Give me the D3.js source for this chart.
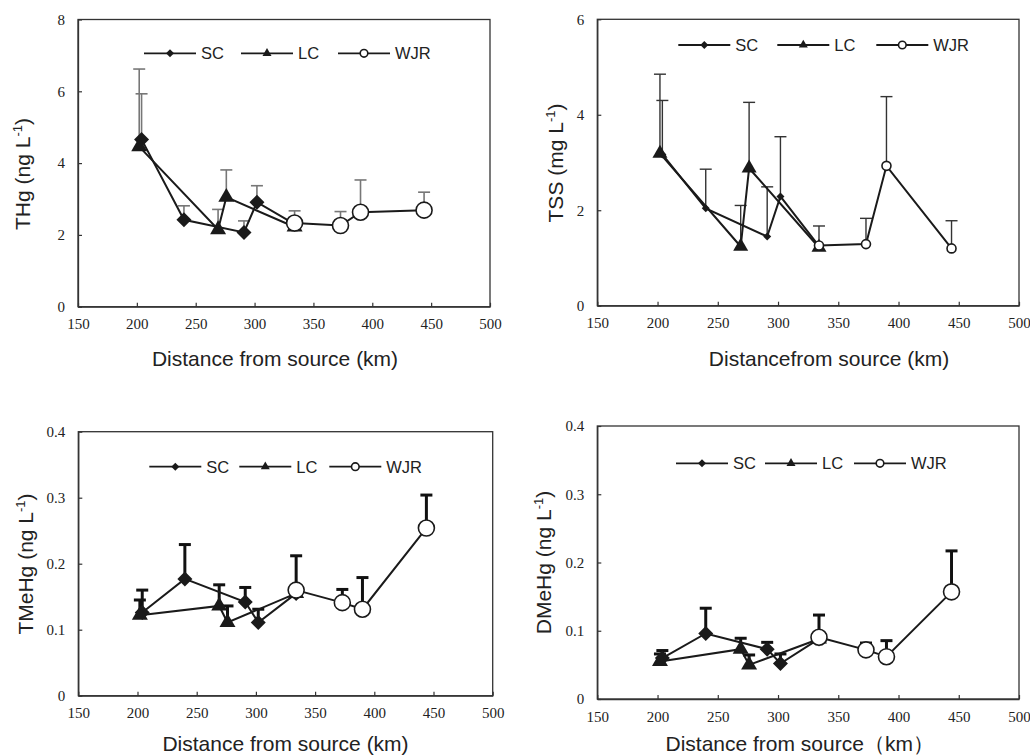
<!DOCTYPE html>
<html><head><meta charset="utf-8">
<script src="https://cdn.jsdelivr.net/npm/d3@7"></script>
<style>body{margin:0;background:#fff} .tick text{font-family:'Liberation Serif','Times New Roman',serif !important;font-size:15px !important;}</style>
</head><body><svg id="c" width="1030" height="755" xmlns="http://www.w3.org/2000/svg"></svg>
<script>
// ---- data ----
const seriesNames = ["SC", "LC", "WJR"];
const xTicks = [150, 200, 250, 300, 350, 400, 450, 500];
const scDist = [204, 240, 291, 302, 334];
const lcDist = [202, 269, 276, 334];
const wjrDist = [334, 373, 390, 444];

const thgSC = [4.66, 2.42, 2.07, 2.91, 2.30];
const thgSCsd = [1.27, 0.39, 0.32, 0.46, 0];
const thgLC = [4.46, 2.15, 3.05, 2.22];
const thgLCsd = [2.16, 0.56, 0.76, 0];
const thgWJR = [2.33, 2.26, 2.63, 2.69];
const thgWJRsd = [0.34, 0.39, 0.90, 0.50];
const thgTicks = [0, 2, 4, 6, 8];

const tssSC = [3.17, 2.04, 1.45, 2.29, 1.25];
const tssSCsd = [1.13, 0.82, 1.04, 1.25, 0];
const tssLC = [3.19, 1.24, 2.88, 1.22];
const tssLCsd = [1.66, 0.86, 1.38, 0];
const tssWJR = [1.26, 1.29, 2.93, 1.20];
const tssWJRsd = [0.41, 0.54, 1.45, 0.58];
const tssTicks = [0, 2, 4, 6];

const tmSC = [0.126, 0.177, 0.142, 0.111, 0.155];
const tmSCsd = [0.034, 0.052, 0.022, 0.020, 0];
const tmLC = [0.122, 0.136, 0.111, 0.155];
const tmLCsd = [0.023, 0.032, 0.025, 0];
const tmWJR = [0.160, 0.141, 0.131, 0.254];
const tmWJRsd = [0.052, 0.020, 0.048, 0.050];
const meTicks = [0, 0.1, 0.2, 0.3, 0.4];

const dmSC = [0.060, 0.096, 0.073, 0.052, 0.088];
const dmSCsd = [0.011, 0.037, 0.010, 0.014, 0];
const dmLC = [0.055, 0.073, 0.050, 0.088];
const dmLCsd = [0.011, 0.016, 0.0145, 0];
const dmWJR = [0.0905, 0.072, 0.062, 0.157];
const dmWJRsd = [0.0325, 0.010, 0.0235, 0.060];

// ---- layout ----
const SANS = "'Liberation Sans', Arial, sans-serif";
const SERIF = "'Liberation Serif', 'Times New Roman', serif";
const svg = d3.select("#c");

const panels = [
  {sc: thgSC, scSd: thgSCsd, lc: thgLC, lcSd: thgLCsd, wjr: thgWJR, wjrSd: thgWJRsd, yTicks: thgTicks,
   yName: "THg (ng L", xName: "Distance from source (km)",
   box: {l: 78, r: 490, t: 19.5, b: 306.7}, ylab: [22, 174], xlab: [275, 358],
   leg: {x: 144, y: 53.3, gap: 97}, mk: {d: 15, t: 16, c: 8}, err: {color: "#777", w: 1.6}},
  {sc: tssSC, scSd: tssSCsd, lc: tssLC, lcSd: tssLCsd, wjr: tssWJR, wjrSd: tssWJRsd, yTicks: tssTicks,
   yName: "TSS (mg L", xName: "Distancefrom source (km)",
   box: {l: 597.3, r: 1019, t: 19.3, b: 305.7}, ylab: [555, 163], xlab: [829, 358],
   leg: {x: 678.3, y: 45, gap: 99}, mk: {d: 8, t: 15, c: 4.5}, err: {color: "#333", w: 1.4}},
  {sc: tmSC, scSd: tmSCsd, lc: tmLC, lcSd: tmLCsd, wjr: tmWJR, wjrSd: tmWJRsd, yTicks: meTicks,
   yName: "TMeHg (ng L", xName: "Distance from source (km)",
   box: {l: 78.3, r: 492.7, t: 431.7, b: 695.7}, ylab: [25, 564], xlab: [285.5, 743.3],
   leg: {x: 149.3, y: 466.7, gap: 90}, mk: {d: 15, t: 16, c: 8}, err: {color: "#111", w: 3}},
  {sc: dmSC, scSd: dmSCsd, lc: dmLC, lcSd: dmLCsd, wjr: dmWJR, wjrSd: dmWJRsd, yTicks: meTicks,
   yName: "DMeHg (ng L", xName: "Distance from source\uFF08km\uFF09",
   box: {l: 597.3, r: 1019, t: 426, b: 699}, ylab: [543.3, 562.5], xlab: [799.7, 743],
   leg: {x: 676, y: 463.3, gap: 89}, mk: {d: 15, t: 16, c: 8}, err: {color: "#111", w: 3}}
];

function drawMarker(g, type, x, y, mk) {
  if (type === "SC") {
    const s = mk.d / Math.SQRT2;
    g.append("path").attr("d", d3.symbol(d3.symbolSquare, s * s)())
      .attr("transform", `translate(${x},${y}) rotate(45)`).attr("fill", "#1a1a1a");
  } else if (type === "LC") {
    const w = mk.t;
    g.append("path").attr("d", d3.symbol(d3.symbolTriangle, Math.sqrt(3) / 4 * w * w)())
      .attr("transform", `translate(${x},${y})`).attr("fill", "#1a1a1a");
  } else {
    g.append("circle").attr("cx", x).attr("cy", y).attr("r", mk.c)
      .attr("fill", "#fff").attr("stroke", "#1a1a1a").attr("stroke-width", 1.6);
  }
}

panels.forEach(p => {
  const b = p.box;
  const x = d3.scaleLinear().domain([150, 500]).range([b.l, b.r]);
  const y = d3.scaleLinear().domain([0, d3.max(p.yTicks)]).range([b.b, b.t]);
  const g = svg.append("g");

  // frame
  g.append("rect").attr("x", b.l).attr("y", b.t).attr("width", b.r - b.l).attr("height", b.b - b.t)
    .attr("fill", "none").attr("stroke", "#333").attr("stroke-width", 1.3);

  const fmt = d => d === 0 ? "0" : (d3.max(p.yTicks) < 1 ? d3.format(".1f")(d) : String(d));
  const xa = g.append("g").attr("transform", `translate(0,${b.b})`)
    .call(d3.axisBottom(x).tickValues(xTicks).tickSizeInner(-4).tickSizeOuter(0).tickPadding(12));
  const ya = g.append("g").attr("transform", `translate(${b.l},0)`)
    .call(d3.axisLeft(y).tickValues(p.yTicks).tickFormat(fmt).tickSizeInner(-4).tickSizeOuter(0).tickPadding(13));
  [xa, ya].forEach(a => {
    a.attr("font-family", SERIF).attr("font-size", 15);
    a.select(".domain").attr("stroke", "#333").attr("stroke-width", 1.3);
    a.selectAll(".tick line").attr("stroke", "#333").attr("stroke-width", 1.2);
    a.selectAll(".tick text").attr("fill", "#222");
  });

  const series = [
    {name: "SC", xs: scDist, ys: p.sc, sd: p.scSd},
    {name: "LC", xs: lcDist, ys: p.lc, sd: p.lcSd},
    {name: "WJR", xs: wjrDist, ys: p.wjr, sd: p.wjrSd}
  ];

  // error bars
  series.forEach(s => {
    s.xs.forEach((xv, i) => {
      if (!s.sd[i]) return;
      const cx = x(xv), y0 = y(s.ys[i]), y1 = y(s.ys[i] + s.sd[i]);
      g.append("line").attr("x1", cx).attr("x2", cx).attr("y1", y0).attr("y2", y1)
        .attr("stroke", p.err.color).attr("stroke-width", p.err.w);
      g.append("line").attr("x1", cx - 6).attr("x2", cx + 6).attr("y1", y1).attr("y2", y1)
        .attr("stroke", p.err.color).attr("stroke-width", p.err.w);
    });
  });

  // lines
  const line = d3.line().x(d => x(d[0])).y(d => y(d[1]));
  series.forEach(s => {
    g.append("path").attr("d", line(s.xs.map((xv, i) => [xv, s.ys[i]])))
      .attr("fill", "none").attr("stroke", "#1a1a1a").attr("stroke-width", 2);
  });

  // markers
  series.forEach(s => {
    s.xs.forEach((xv, i) => drawMarker(g, s.name, x(xv), y(s.ys[i]), p.mk));
  });

  // legend
  const legMk = {d: 8, t: 9, c: 3.8};
  seriesNames.forEach((n, i) => {
    const lx = p.leg.x + i * p.leg.gap, ly = p.leg.y;
    g.append("line").attr("x1", lx).attr("x2", lx + 52).attr("y1", ly).attr("y2", ly)
      .attr("stroke", "#1a1a1a").attr("stroke-width", 1.8);
    drawMarker(g, n, lx + 26, ly, legMk);
    g.append("text").attr("x", lx + 57).attr("y", ly).attr("dy", "0.36em")
      .attr("font-family", SANS).attr("font-size", 16.5).attr("fill", "#222").text(n);
  });

  // y label
  const yl = g.append("text").attr("transform", `translate(${p.ylab[0]},${p.ylab[1]}) rotate(-90)`)
    .attr("text-anchor", "middle").attr("dy", "0.36em")
    .attr("font-family", SANS).attr("font-size", 21).attr("fill", "#222");
  yl.append("tspan").text(p.yName);
  yl.append("tspan").attr("font-size", 13).attr("dy", -8).text("-1");
  yl.append("tspan").attr("dy", 8).text(")");

  // x label
  g.append("text").attr("x", p.xlab[0]).attr("y", p.xlab[1]).attr("dy", "0.36em")
    .attr("text-anchor", "middle").attr("font-family", SANS).attr("font-size", 21).attr("fill", "#222")
    .text(p.xName);
});
</script>
</body></html>
